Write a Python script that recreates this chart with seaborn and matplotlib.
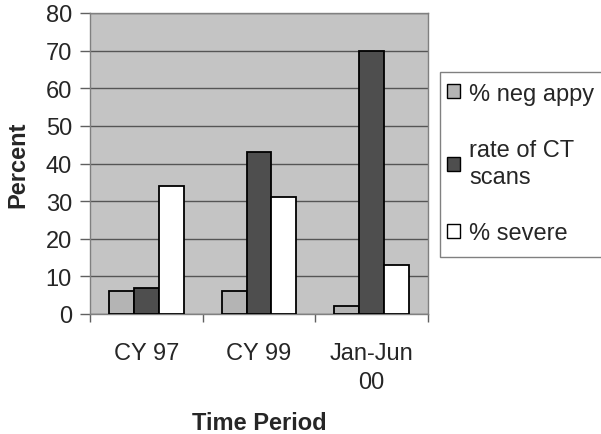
import matplotlib
matplotlib.use("Agg")
import matplotlib.pyplot as plt
import seaborn as sns
import pandas as pd
from matplotlib.ticker import FixedLocator
from matplotlib.patches import Rectangle

periods = ["CY 97", "CY 99", "Jan-Jun\n00"]
series = ["% neg appy", "rate of CT\nscans", "% severe"]
neg_appy = [6, 6, 2]
ct_rate = [7, 43, 70]
severe = [34, 31, 13]
yticks = [0, 10, 20, 30, 40, 50, 60, 70, 80]

rows = []
for s, vals in zip(series, [neg_appy, ct_rate, severe]):
    for p, v in zip(periods, vals):
        rows.append({"period": p, "series": s, "value": v})
df = pd.DataFrame(rows)

sns.set_style("white")
plt.rcParams['font.family'] = ['Liberation Sans', 'DejaVu Sans']
FS = 17

fig = plt.figure(figsize=(6.01, 4.35), dpi=100)
ax = fig.add_axes([90/601, 1-315/435, (428-90)/601, (315-14)/435])
ax.set_facecolor("#c4c4c4")

palette = {series[0]: "#b4b4b4", series[1]: "#4e4e4e", series[2]: "#ffffff"}
sns.barplot(data=df, x="period", y="value", hue="series", order=periods,
            hue_order=series, palette=palette, width=0.66, saturation=1,
            edgecolor="black", linewidth=1.3, ax=ax, legend=True, zorder=3)

ax.set_ylim(0, 80)
ax.set_xlim(-0.5, 2.5)
ax.set_yticks(yticks)
ax.set_yticklabels([str(t) for t in yticks], fontsize=FS)
ax.yaxis.grid(True, color="#555555", linewidth=1.0, zorder=1)
ax.set_axisbelow(True)
for sp in ax.spines.values():
    sp.set_color("#808080")
    sp.set_linewidth(1.0)
ax.tick_params(axis='y', direction='out', length=7, width=1, color="#606060", pad=6, left=True)
ax.tick_params(axis='x', which='major', length=0, pad=20)
ax.xaxis.set_minor_locator(FixedLocator([-0.5, 0.5, 1.5, 2.5]))
ax.tick_params(axis='x', which='minor', direction='out', length=6, width=1, color="#606060", bottom=True)
ax.set_xticks(range(len(periods)))
ax.set_xticklabels(periods, fontsize=FS, linespacing=1.45)

ax.set_xlabel("Time Period", fontsize=FS, fontweight="bold", labelpad=13)
ax.set_ylabel("Percent", fontsize=FS, fontweight="bold", labelpad=12)

handles, labels = ax.get_legend_handles_labels()
if ax.legend_:
    ax.legend_.remove()
leg = fig.legend(handles, labels, loc="upper left",
                 bbox_to_anchor=(442/601, 1-79/435), bbox_transform=fig.transFigure,
                 fontsize=FS, frameon=False,
                 handlelength=0.55, handleheight=0.55, handletextpad=0.4,
                 labelspacing=1.45, borderpad=0.2, borderaxespad=0)
for t in leg.get_texts():
    t.set_linespacing(1.3)
for h in leg.legend_handles:
    h.set_edgecolor("black")
    h.set_linewidth(1.0)

frame = Rectangle((440/601, 1-258/435), 170/601, (258-73)/435, transform=fig.transFigure,
                  facecolor="white", edgecolor="#808080", linewidth=1.0, zorder=0)
fig.patches.append(frame)

fig.savefig("out.png", dpi=100)
